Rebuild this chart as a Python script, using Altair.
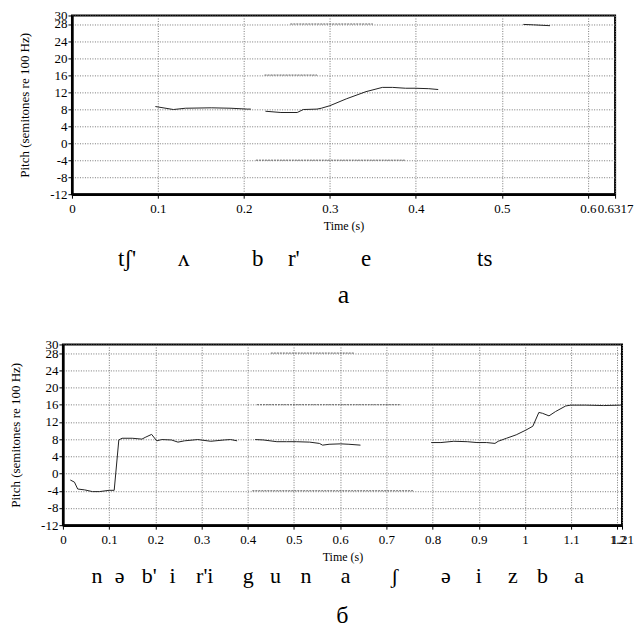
import altair as alt
import pandas as pd

SERIF = "Liberation Serif"

# ---------- panel a ----------
a_seg1_t = [0.097, 0.118, 0.132, 0.162, 0.185, 0.204, 0.208]
a_seg1_v = [8.6, 7.9, 8.2, 8.3, 8.2, 8.0, 8.0]
a_seg2_t = [0.225, 0.243, 0.262, 0.269, 0.285, 0.290, 0.300, 0.319, 0.342,
            0.361, 0.373, 0.388, 0.399, 0.415, 0.426]
a_seg2_v = [7.5, 7.2, 7.2, 7.9, 8.0, 8.2, 8.8, 10.4, 12.1,
            13.1, 13.1, 12.9, 12.9, 12.8, 12.6]
a_seg3_t = [0.525, 0.537, 0.556]
a_seg3_v = [27.9, 27.8, 27.6]
a_ghost_lvl = [28, 16, -4]
a_ghost_t0 = [0.254, 0.224, 0.214]
a_ghost_t1 = [0.350, 0.285, 0.388]
a_phon = ["tʃ'", "ʌ", "b", "r'", "e", "ts"]
a_phon_t = [0.064, 0.130, 0.216, 0.258, 0.342, 0.480]
a_xticks = [0, 0.1, 0.2, 0.3, 0.4, 0.5, 0.6, 0.6317]
a_xmax = 0.6317

# ---------- panel б ----------
b_seg1_t = [0.016, 0.025, 0.032, 0.047, 0.064, 0.079, 0.100, 0.111, 0.121,
            0.128, 0.150, 0.171, 0.178, 0.192, 0.203, 0.214, 0.235, 0.249,
            0.263, 0.292, 0.320, 0.349, 0.363, 0.377]
b_seg1_v = [-1.5, -2.0, -3.6, -3.8, -4.2, -4.2, -3.9, -3.9, 7.8,
            8.2, 8.2, 8.0, 8.4, 9.1, 7.6, 7.9, 7.8, 7.3,
            7.6, 7.9, 7.5, 7.8, 7.9, 7.6]
b_seg2_t = [0.416, 0.434, 0.463, 0.484, 0.505, 0.534, 0.555, 0.562, 0.576,
            0.601, 0.619, 0.644]
b_seg2_v = [7.9, 7.8, 7.4, 7.4, 7.4, 7.3, 7.0, 6.6, 6.8, 6.9, 6.8, 6.6]
b_seg3_t = [0.797, 0.818, 0.846, 0.875, 0.896, 0.917, 0.935, 0.942, 0.960,
            0.981, 1.002, 1.017, 1.030, 1.038, 1.052, 1.066, 1.088, 1.099,
            1.131, 1.170, 1.207]
b_seg3_v = [7.2, 7.2, 7.5, 7.4, 7.2, 7.2, 7.0, 7.5, 8.2,
            9.0, 10.1, 11.0, 14.2, 14.0, 13.4, 14.4, 15.7, 15.9,
            15.9, 15.8, 15.9]
b_ghost_lvl = [28, 16, -4]
b_ghost_t0 = [0.45, 0.42, 0.41]
b_ghost_t1 = [0.63, 0.73, 0.76]
b_phon = ["n", "ə", "b'", "i", "r'i", "g", "u", "n", "a", "ʃ", "ə", "i", "z", "b", "a"]
b_phon_t = [0.074, 0.123, 0.187, 0.237, 0.307, 0.401, 0.460, 0.526, 0.612,
            0.718, 0.829, 0.900, 0.974, 1.038, 1.117]
b_xticks = [0, 0.1, 0.2, 0.3, 0.4, 0.5, 0.6, 0.7, 0.8, 0.9, 1, 1.1, 1.2, 1.21]
b_xmax = 1.21

y_ticks = [-12, -8, -4, 0, 4, 8, 12, 16, 20, 24, 28, 30]
y_title = "Pitch (semitones re 100 Hz)"
x_title = "Time (s)"


def contour_df(segs):
    rows = []
    for i, (ts, vs) in enumerate(segs):
        for t, v in zip(ts, vs):
            rows.append({"t": t, "v": v, "seg": i})
    return pd.DataFrame(rows)


def ghost_df(lvls, t0s, t1s):
    rows = []
    for i, (l, a, b) in enumerate(zip(lvls, t0s, t1s)):
        rows.append({"t": a, "v": l, "g": i})
        rows.append({"t": b, "v": l, "g": i})
    return pd.DataFrame(rows)


def panel(segs, ghosts, phon, phon_t, xticks, xmax, W, H, label,
          phon_dy, label_dy, phon_size, label_size, spacer=None):
    xs = alt.Scale(domain=[0, xmax], nice=False, zero=False)
    ys = alt.Scale(domain=[-12, 30], nice=False, zero=False)
    xax = alt.Axis(values=xticks, labelExpr="'' + datum.value", title=x_title,
                   labelFlush=False, labelOverlap=False, labelPadding=4,
                   titlePadding=5, titleFontSize=12)
    yax = alt.Axis(values=y_ticks, labelExpr="'' + datum.value", title=y_title,
                   labelOverlap=False, labelFlush=False, labelPadding=1,
                   titlePadding=18.5, titleFontSize=13)
    line = alt.Chart(contour_df(segs)).mark_line(
        color="#222", strokeWidth=1).encode(
        x=alt.X("t:Q", scale=xs, axis=xax),
        y=alt.Y("v:Q", scale=ys, axis=yax),
        detail="seg:N")
    gh = alt.Chart(ghost_df(*ghosts)).mark_line(
        color="#666", strokeWidth=1, strokeDash=[2, 1]).encode(
        x=alt.X("t:Q", scale=xs, axis=xax),
        y=alt.Y("v:Q", scale=ys, axis=yax), detail="g:N")
    txt = alt.Chart(pd.DataFrame({"t": phon_t, "s": phon})).mark_text(
        font=SERIF, fontSize=phon_size, baseline="alphabetic", color="black").encode(
        x=alt.X("t:Q", scale=xs, axis=xax), y=alt.value(H + phon_dy), text="s:N")
    lab = alt.Chart(pd.DataFrame({"s": [label]})).mark_text(
        font=SERIF, fontSize=label_size, baseline="alphabetic", color="black").encode(
        x=alt.value(W / 2), y=alt.value(H + label_dy), text="s:N")
    layers = [line, gh, txt, lab]
    if spacer is not None:
        # invisible layout helper: widens this panel's bounds on the right
        sp = alt.Chart(pd.DataFrame({"k": [0]})).mark_rule(opacity=0).encode(
            x=alt.value(spacer), x2=alt.value(spacer),
            y=alt.value(0), y2=alt.value(4))
        layers.append(sp)
    return alt.layer(*layers).properties(width=W, height=H)


top = panel([(a_seg1_t, a_seg1_v), (a_seg2_t, a_seg2_v), (a_seg3_t, a_seg3_v)],
            (a_ghost_lvl, a_ghost_t0, a_ghost_t1), a_phon, a_phon_t,
            a_xticks, a_xmax, 544, 179, "а", 72, 109, 23, 26)
bottom = panel([(b_seg1_t, b_seg1_v), (b_seg2_t, b_seg2_v), (b_seg3_t, b_seg3_v)],
               (b_ghost_lvl, b_ghost_t0, b_ghost_t1), b_phon, b_phon_t,
               b_xticks, b_xmax, 560, 181, "б", 58, 98, 22, 24, spacer=580)

chart = alt.vconcat(top, bottom, spacing=28.5, center=True).properties(
    padding={"left": 0, "top": 0, "right": -9, "bottom": 0},
    background="white"
).configure_view(
    stroke="black", strokeWidth=2
).configure_axis(
    labelFont=SERIF, labelFontSize=13, labelColor="black",
    labelOverlap=False, labelFlush=False,
    titleFont=SERIF, titleFontWeight="normal", titleColor="black",
    tickColor="black", tickSize=4, tickWidth=1,
    domainColor="black", domainWidth=2.5,
    grid=True, gridColor="#777", gridDash=[1, 1.5], gridWidth=1
)

chart.save("out.html", embed_options={"renderer": "svg", "actions": False})
